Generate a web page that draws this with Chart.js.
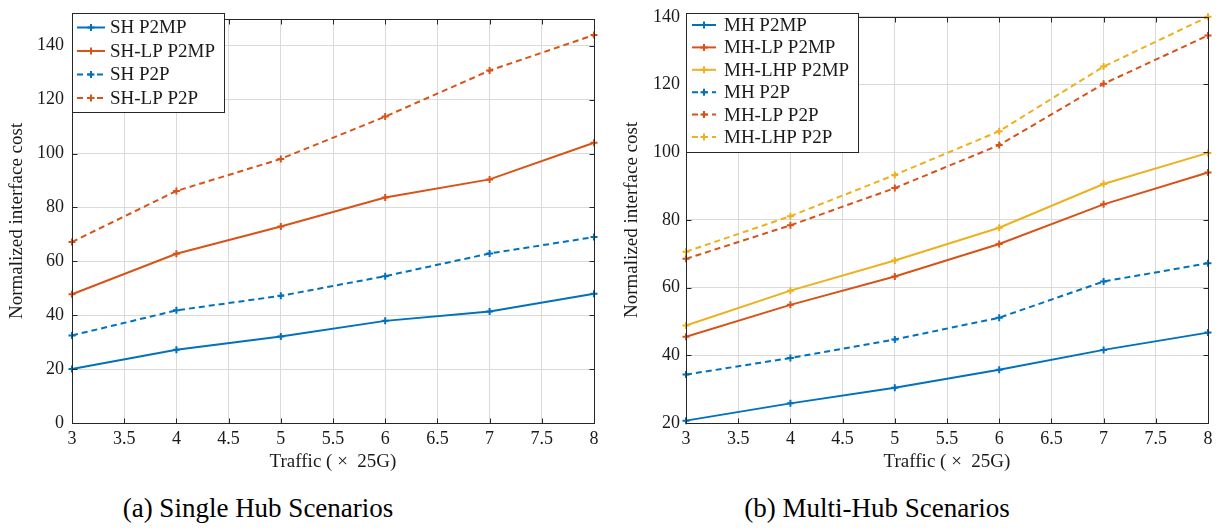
<!DOCTYPE html>
<html><head><meta charset="utf-8">
<script src="https://cdn.jsdelivr.net/npm/chart.js@4.4.1/dist/chart.umd.min.js"></script>
<style>
body{margin:0;font-family:'Liberation Serif', serif;}
</style></head><body>
<div style="position:absolute;left:0;top:0;width:610px;height:480px"><canvas id="c1" width="610" height="480"></canvas></div>
<div style="position:absolute;left:610px;top:0;width:609px;height:480px"><canvas id="c2" width="609" height="480"></canvas></div>
<div style="position:absolute;left:108px;top:494px;width:300px;text-align:center;font-family:'Liberation Serif', serif;font-size:27px;line-height:28px;color:#000;white-space:nowrap">(a) Single Hub Scenarios</div>
<div style="position:absolute;left:727px;top:494px;width:300px;text-align:center;font-family:'Liberation Serif', serif;font-size:27px;line-height:28px;color:#000;white-space:nowrap">(b) Multi-Hub Scenarios</div>
<script>
// ---- data ----
const traffic = [3, 4, 5, 6, 7, 8];

const shP2MP   = [20, 27.2, 32.1, 37.9, 41.4, 48];
const shlpP2MP = [47.8, 62.8, 72.9, 83.7, 90.4, 104];
const shP2P    = [32.5, 41.8, 47.2, 54.5, 62.9, 69];
const shlpP2P  = [67.2, 86.1, 98, 113.7, 130.8, 144];

const mhP2MP    = [20.7, 25.8, 30.4, 35.7, 41.6, 46.7];
const mhlpP2MP  = [45.5, 54.9, 63.3, 72.9, 84.6, 94];
const mhlhpP2MP = [48.8, 59.1, 68, 77.7, 90.6, 99.8];
const mhP2P     = [34.3, 39.2, 44.7, 51.1, 61.8, 67.2];
const mhlpP2P   = [68.5, 78.4, 89.4, 102.1, 120.2, 134.5];
const mhlhpP2P  = [70.6, 81.1, 93.3, 106.2, 125.3, 140];

const leftLabels  = ['SH P2MP', 'SH-LP P2MP', 'SH P2P', 'SH-LP P2P'];
const rightLabels = ['MH P2MP', 'MH-LP P2MP', 'MH-LHP P2MP', 'MH P2P', 'MH-LP P2P', 'MH-LHP P2P'];
const xTitle = 'Traffic ( \u00d7  25G)';
const yTitle = 'Normalized interface cost';

// ---- styling ----
const BLUE = '#0072BD', ORANGE = '#D95319', YELLOW = '#EDB120';
const FONT = '"Liberation Serif", serif';
const TXT = '#1a1a1a';
const GRID = '#dadada';
Chart.defaults.font.family = FONT;

function pts(vals) { return traffic.map((x, i) => ({x: x, y: vals[i]})); }
function ds(label, vals, color, dashed) {
  return {
    label, data: pts(vals), borderColor: color, backgroundColor: color,
    borderWidth: 2, borderDash: dashed ? [6, 4] : [],
    pointStyle: 'cross', pointRadius: 3.5, pointBorderWidth: 2,
    pointBorderColor: color, pointHoverRadius: 3.5, tension: 0, clip: 8, fill: false
  };
}

const framePlugin = {
  id: 'frame',
  afterDraw(chart, args, opts) {
    const ctx = chart.ctx, a = chart.chartArea;
    const xs = chart.scales.x, ys = chart.scales.y;
    ctx.save();
    ctx.strokeStyle = '#262626'; ctx.lineWidth = 1; ctx.setLineDash([]);
    const L = Math.round(a.left) + 0.5, R = Math.round(a.right) + 0.5;
    const T = Math.round(a.top) + 0.5, B = Math.round(a.bottom) + 0.5;
    ctx.beginPath();
    xs.ticks.forEach(t => {
      const px = Math.round(xs.getPixelForValue(t.value)) + 0.5;
      ctx.moveTo(px, B); ctx.lineTo(px, B - 5);
      ctx.moveTo(px, T); ctx.lineTo(px, T + 5);
    });
    ys.ticks.forEach(t => {
      const py = Math.round(ys.getPixelForValue(t.value)) + 0.5;
      ctx.moveTo(L, py); ctx.lineTo(L + 5, py);
      ctx.moveTo(R, py); ctx.lineTo(R - 5, py);
    });
    ctx.stroke();
    ctx.strokeRect(L, T, R - L, B - T);
    // legend box
    const o = opts;
    ctx.fillStyle = '#fff';
    ctx.fillRect(o.x, o.y, o.w, o.h);
    ctx.strokeStyle = '#262626';
    ctx.strokeRect(o.x + 0.5, o.y + 0.5, o.w, o.h);
    chart.data.datasets.forEach((d, i) => {
      const y = o.y + o.first + i * o.step;
      ctx.strokeStyle = d.borderColor; ctx.lineWidth = 2;
      ctx.setLineDash(d.borderDash || []);
      ctx.beginPath(); ctx.moveTo(o.x + o.l1, y); ctx.lineTo(o.x + o.l2, y); ctx.stroke();
      ctx.setLineDash([]);
      const cx = o.x + (o.l1 + o.l2) / 2;
      ctx.beginPath(); ctx.moveTo(cx - 3.5, y); ctx.lineTo(cx + 3.5, y);
      ctx.moveTo(cx, y - 3.5); ctx.lineTo(cx, y + 3.5); ctx.stroke();
      ctx.fillStyle = TXT; ctx.font = '19px "Liberation Serif", serif';
      ctx.textBaseline = 'middle'; ctx.textAlign = 'left';
      ctx.fillText(d.label, o.x + o.tx, y + 1);
    });
    ctx.restore();
  }
};

function makeChart(id, datasets, ymin, ymax, yWidth, padRight, yTitlePad, legend, yTickPad) {
  return new Chart(document.getElementById(id), {
    type: 'line',
    data: { datasets },
    plugins: [framePlugin],
    options: {
      responsive: false, animation: false, events: [],
      layout: { padding: { top: 13, right: padRight, left: 0, bottom: 0 } },
      plugins: { legend: { display: false }, tooltip: { enabled: false }, frame: legend },
      scales: {
        x: {
          type: 'linear', min: 3, max: 8,
          border: { display: false },
          grid: { color: GRID, lineWidth: 1, drawTicks: false },
          ticks: { stepSize: 0.5, autoSkip: false, maxRotation: 0, padding: 5,
                   callback: v => String(v),
                   color: TXT, font: { family: FONT, size: 18 } },
          title: { display: true, text: xTitle, color: TXT, font: { family: FONT, size: 19 },
                   padding: { top: 0, bottom: 7 } },
          afterFit(s) { s.height = 57; }
        },
        y: {
          type: 'linear', min: ymin, max: ymax,
          border: { display: false },
          grid: { color: GRID, lineWidth: 1, drawTicks: false },
          ticks: { stepSize: 20, includeBounds: false, padding: yTickPad,
                   callback: v => String(v),
                   color: TXT, font: { family: FONT, size: 18 } },
          title: { display: true, text: yTitle, color: TXT, font: { family: FONT, size: 19 },
                   padding: { top: yTitlePad, bottom: 0 } },
          afterFit(s) { s.width = yWidth; }
        }
      }
    }
  });
}

function drawAll() {
  makeChart('c1', [
    ds(leftLabels[0], shP2MP, BLUE, false),
    ds(leftLabels[1], shlpP2MP, ORANGE, false),
    ds(leftLabels[2], shP2P, BLUE, true),
    ds(leftLabels[3], shlpP2P, ORANGE, true)
  ], 0, 150, 72, 16, 6,
  { x: 72, y: 13, w: 152, h: 99, first: 14.5, step: 23.5, l1: 5, l2: 33, tx: 38 }, 8);

  makeChart('c2', [
    ds(rightLabels[0], mhP2MP, BLUE, false),
    ds(rightLabels[1], mhlpP2MP, ORANGE, false),
    ds(rightLabels[2], mhlhpP2MP, YELLOW, false),
    ds(rightLabels[3], mhP2P, BLUE, true),
    ds(rightLabels[4], mhlpP2P, ORANGE, true),
    ds(rightLabels[5], mhlhpP2P, YELLOW, true)
  ], 20, 140, 76, 11, 10.6,
  { x: 76, y: 13, w: 172, h: 139, first: 12, step: 22.4, l1: 6, l2: 30, tx: 38 }, 6);
}
drawAll();
</script>
</body></html>
